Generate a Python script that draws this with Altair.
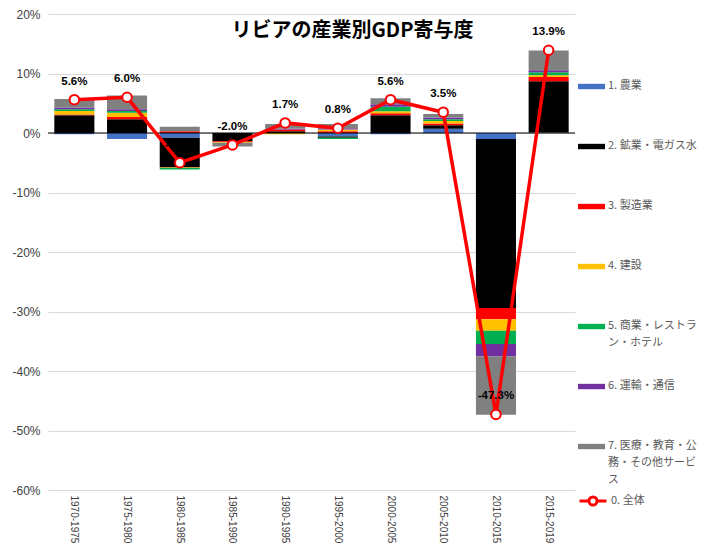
import altair as alt
import pandas as pd

periods = ["1970-1975", "1975-1980", "1980-1985", "1985-1990", "1990-1995",
           "1995-2000", "2000-2005", "2005-2010", "2010-2015", "2015-2019"]

sectors = ["1. 農業", "2. 鉱業・電ガス水", "3. 製造業", "4. 建設",
           "5. 商業・レストラン・ホテル", "6. 運輸・通信",
           "7. 医療・教育・公務・その他サービス"]
colors = ["#4472C4", "#000000", "#FF0000", "#FFC000", "#00B050", "#7030A0", "#808080"]

agri      = [-0.2, -1.0, -0.8,  0.0,  0.0, -0.6, -0.2,  0.7,  -1.0, 0.1]
mining    = [ 3.0,  2.3, -5.0, -1.4,  0.3, -0.2,  3.0,  0.6, -28.4, 8.6]
manuf     = [ 0.1,  0.4,  0.3, -0.1,  0.3,  0.3,  0.3,  0.3,  -1.9, 0.7]
constr    = [ 0.6,  0.7, -0.1, -0.15, -0.2, 0.3,  0.35, 0.4,  -1.95, 0.3]
commerce  = [ 0.3,  0.3, -0.25, 0.0,  0.0, -0.2,  0.75, 0.3,  -2.2, 0.5]
transport = [ 0.3,  0.3,  0.0,  0.0,  0.1,  0.2,  0.45, 0.3,  -2.1, 0.35]
services  = [ 1.4,  2.3,  0.75, -0.6, 0.8,  0.7,  1.0,  0.6,  -9.8, 3.3]

total = [5.6, 6.0, -5.0, -2.0, 1.7, 0.8, 5.6, 3.5, -47.3, 13.9]
total_name = "0. 全体"

y_ticks = [-60, -50, -40, -30, -20, -10, 0, 10, 20]

sector_values = [agri, mining, manuf, constr, commerce, transport, services]
rows = []
for si, (name, vals) in enumerate(zip(sectors, sector_values)):
    for p, v in zip(periods, vals):
        rows.append({"period": p, "sector": name, "order": si, "value": v})
bars_df = pd.DataFrame(rows)

line_df = pd.DataFrame({
    "period": periods,
    "total": total,
    "label": [f"{v:.1f}%" for v in total],
    "series": [total_name] * len(periods),
})
zero_df = pd.DataFrame({"zero": [0]})

JP = "Noto Sans CJK JP"
NUM = "Liberation Sans"

x_enc = alt.X("period:N", sort=periods,
              scale=alt.Scale(paddingInner=0.24, paddingOuter=0.12),
              axis=alt.Axis(title=None, labelAngle=90, domain=False, ticks=False,
                            labelFont=NUM, labelFontSize=10, labelColor="#404040",
                            labelPadding=5, labelBaseline="middle", labelAlign="left"))
y_scale = alt.Scale(domain=[-60, 20], nice=False, zero=False)

label_expr = ("datum.label == '5. 商業・レストラン・ホテル' ? ['5. 商業・レストラ', 'ン・ホテル'] : "
              "datum.label == '7. 医療・教育・公務・その他サービス' ? ['7. 医療・教育・公', '務・その他サービ', 'ス'] : datum.label")

bars = alt.Chart(bars_df).mark_bar().encode(
    x=x_enc,
    y=alt.Y("value:Q", stack="zero", scale=y_scale,
            axis=alt.Axis(values=y_ticks, labelExpr="datum.value + '%'", title=None,
                          domain=False, ticks=False, gridColor="#D9D9D9",
                          labelFont=NUM, labelFontSize=12, labelColor="#404040",
                          labelPadding=8)),
    fill=alt.Fill("sector:N", scale=alt.Scale(domain=sectors, range=colors),
                  legend=alt.Legend(title=None, orient="none", legendX=530, legendY=52,
                                    symbolType="M-1,0.32H1V0.72H-1Z", symbolSize=729,
                                    symbolStrokeWidth=0, labelFont=JP, labelFontSize=11,
                                    labelColor="#595959", labelOffset=3, labelLimit=200,
                                    labelExpr=label_expr, labelBaseline="top",
                                    gridAlign="all", rowPadding=0, padding=0)),
    order=alt.Order("order:Q", sort="ascending"),
)

zero_rule = alt.Chart(zero_df).mark_rule(color="black", strokeWidth=1).encode(
    y=alt.Y("zero:Q", scale=y_scale))

line = alt.Chart(line_df).mark_line(strokeWidth=3.5).encode(
    x=x_enc,
    y=alt.Y("total:Q", scale=y_scale),
    stroke=alt.Stroke("series:N", scale=alt.Scale(domain=[total_name], range=["#FF0000"]),
                      legend=alt.Legend(title=None, orient="none", legendX=530, legendY=472,
                                        symbolType="M-1,0H-0.3M0.3,0H1M-0.3,0A0.3,0.3,0,1,1,0.3,0A0.3,0.3,0,1,1,-0.3,0",
                                        symbolSize=729, symbolStrokeWidth=3,
                                        symbolFillColor="white",
                                        labelFont=JP, labelFontSize=11, labelColor="#595959",
                                        labelOffset=3, padding=0)),
)

points = alt.Chart(line_df).mark_point(filled=True, fill="white", stroke="#FF0000",
                                       strokeWidth=2, size=90, opacity=1).encode(
    x=x_enc, y=alt.Y("total:Q", scale=y_scale))

texts = alt.Chart(line_df).mark_text(dy=-18, fontWeight="bold", fontSize=11.5,
                                     font=NUM, color="black").encode(
    x=x_enc, y=alt.Y("total:Q", scale=y_scale), text="label:N")

chart = alt.layer(bars, zero_rule, line, points, texts).properties(
    width=527, height=476,
    padding={"left": 40, "top": 6, "right": 125, "bottom": 55},
    autosize=alt.AutoSizeParams(type="none"),
    title=alt.TitleParams("リビアの産業別GDP寄与度", font=JP, fontSize=20, fontWeight="bold",
                          color="black", anchor="middle", frame="group", dx=41, dy=37),
).configure(style={"guide-label": {"lineHeight": 17.4}}).configure_view(stroke=None)

chart.save("out.html", embed_options={"renderer": "svg", "actions": False})
